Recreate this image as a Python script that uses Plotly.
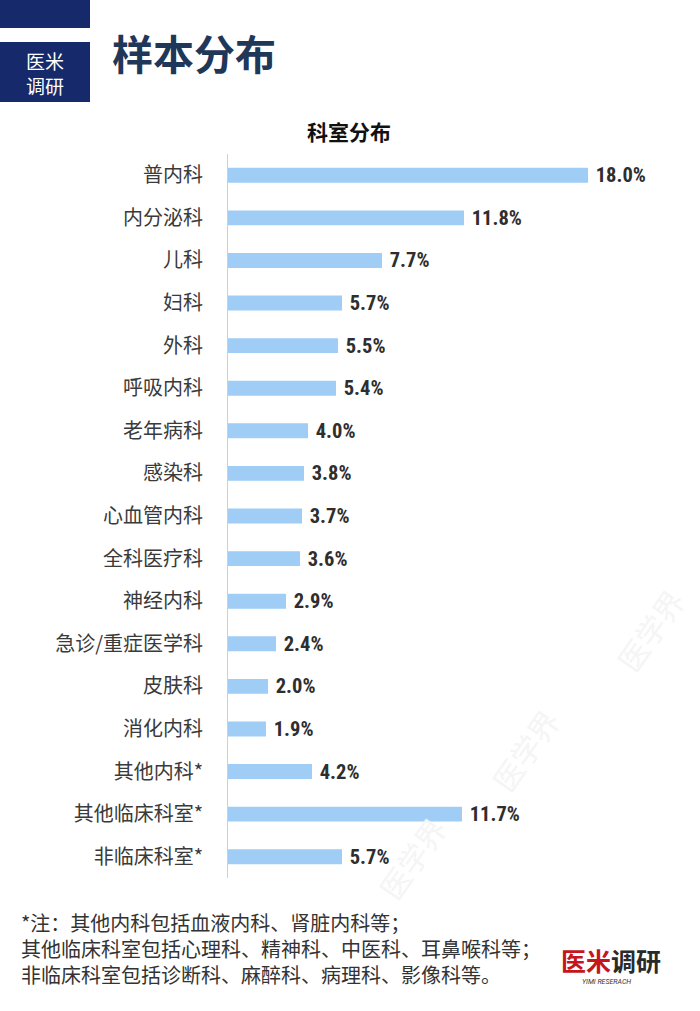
import plotly.graph_objects as go

categories = ["普内科", "内分泌科", "儿科", "妇科", "外科", "呼吸内科", "老年病科", "感染科",
              "心血管内科", "全科医疗科", "神经内科", "急诊/重症医学科", "皮肤科", "消化内科",
              "其他内科*", "其他临床科室*", "非临床科室*"]
values = [18.0, 11.8, 7.7, 5.7, 5.5, 5.4, 4.0, 3.8, 3.7, 3.6, 2.9, 2.4, 2.0, 1.9, 4.2, 11.7, 5.7]
labels = [f"{v:.1f}%" for v in values]

title = "样本分布"
subtitle = "科室分布"
notes = ["*注：其他内科包括血液内科、肾脏内科等；",
         "其他临床科室包括心理科、精神科、中医科、耳鼻喉科等；",
         "非临床科室包括诊断科、麻醉科、病理科、影像科等。"]

W, H = 700, 1011
L, R, T, B = 228, 52, 154, 133
PW, PH = W - L - R, H - T - B


def px(x):
    return (x - L) / PW


def py(y):
    return (H - B - y) / PH


CJK = "Noto Sans CJK SC"
NARROW = "Roboto Condensed, Roboto, DejaVu Sans Condensed"
fig = go.Figure(go.Bar(
    x=values, y=categories, orientation="h",
    marker=dict(color="#9fcdf6", line=dict(width=0)),
    text=labels, textposition="outside", cliponaxis=False, constraintext="none",
    textfont=dict(family=NARROW, size=20.5, color="#2e2e2e"),
    texttemplate="\u00a0<b>%{text}</b>",
    hoverinfo="skip",
))

shapes = [
    dict(type="rect", xref="paper", yref="paper", x0=px(0), x1=px(90), y0=py(28), y1=py(0),
         fillcolor="#15296b", line=dict(width=0), layer="above"),
    dict(type="rect", xref="paper", yref="paper", x0=px(0), x1=px(90), y0=py(102), y1=py(42),
         fillcolor="#15296b", line=dict(width=0), layer="above"),
]

annotations = []
# faint background watermarks
for wx, wy in [(650, 630), (525, 750), (412, 858)]:
    annotations.append(dict(text="医学界", x=px(wx), y=py(wy), xref="paper", yref="paper", showarrow=False,
                            textangle=-55, font=dict(family=CJK, size=30, color="#f5f5f5"),
                            xanchor="center", yanchor="middle"))

annotations += [
    dict(text="医米<br>调研", x=px(45), y=py(73), xref="paper", yref="paper", showarrow=False,
         font=dict(family=CJK, size=19, color="white"), xanchor="center", yanchor="middle", align="center"),
    dict(text=f"<b>{title}</b>", x=px(110), y=py(52), xref="paper", yref="paper", showarrow=False,
         font=dict(family=CJK, size=41, color="#1f3758"), xanchor="left", yanchor="middle"),
    dict(text=f"<b>{subtitle}</b>", x=px(349), y=py(131), xref="paper", yref="paper", showarrow=False,
         font=dict(family=CJK, size=21, color="#111111"), xanchor="center", yanchor="middle"),
    dict(text="<b><span style='color:#c4161c'>医米</span>调研</b>", x=px(611), y=py(960), xref="paper", yref="paper",
         showarrow=False, font=dict(family=CJK, size=25, color="#2a2a2a"), xanchor="center", yanchor="middle"),
    dict(text="<i>YIMI RESERACH</i>", x=px(606), y=py(982), xref="paper", yref="paper", showarrow=False,
         font=dict(family="Roboto, Arial", size=7, color="#333333"), xanchor="center", yanchor="middle"),
    dict(text="<br>".join(notes), x=px(19), y=py(948), xref="paper", yref="paper",
         showarrow=False, font=dict(family=CJK, size=20, color="#333333"),
         xanchor="left", yanchor="middle", align="left"),
]

fig.update_layout(
    width=W, height=H,
    margin=dict(l=L, r=R, t=T, b=B, pad=0),
    paper_bgcolor="white", plot_bgcolor="rgba(0,0,0,0)",
    showlegend=False,
    bargap=0.65,
    xaxis=dict(range=[0, PW / 20], visible=False, fixedrange=True),
    yaxis=dict(autorange="reversed", showline=True, linecolor="#d0d0d0", linewidth=1,
               showgrid=False, ticks="", ticklabelstandoff=20,
               tickfont=dict(family=CJK, size=20, color="#3a3a3a"), fixedrange=True),
    shapes=shapes, annotations=annotations,
)

fig.write_html("out.html")
